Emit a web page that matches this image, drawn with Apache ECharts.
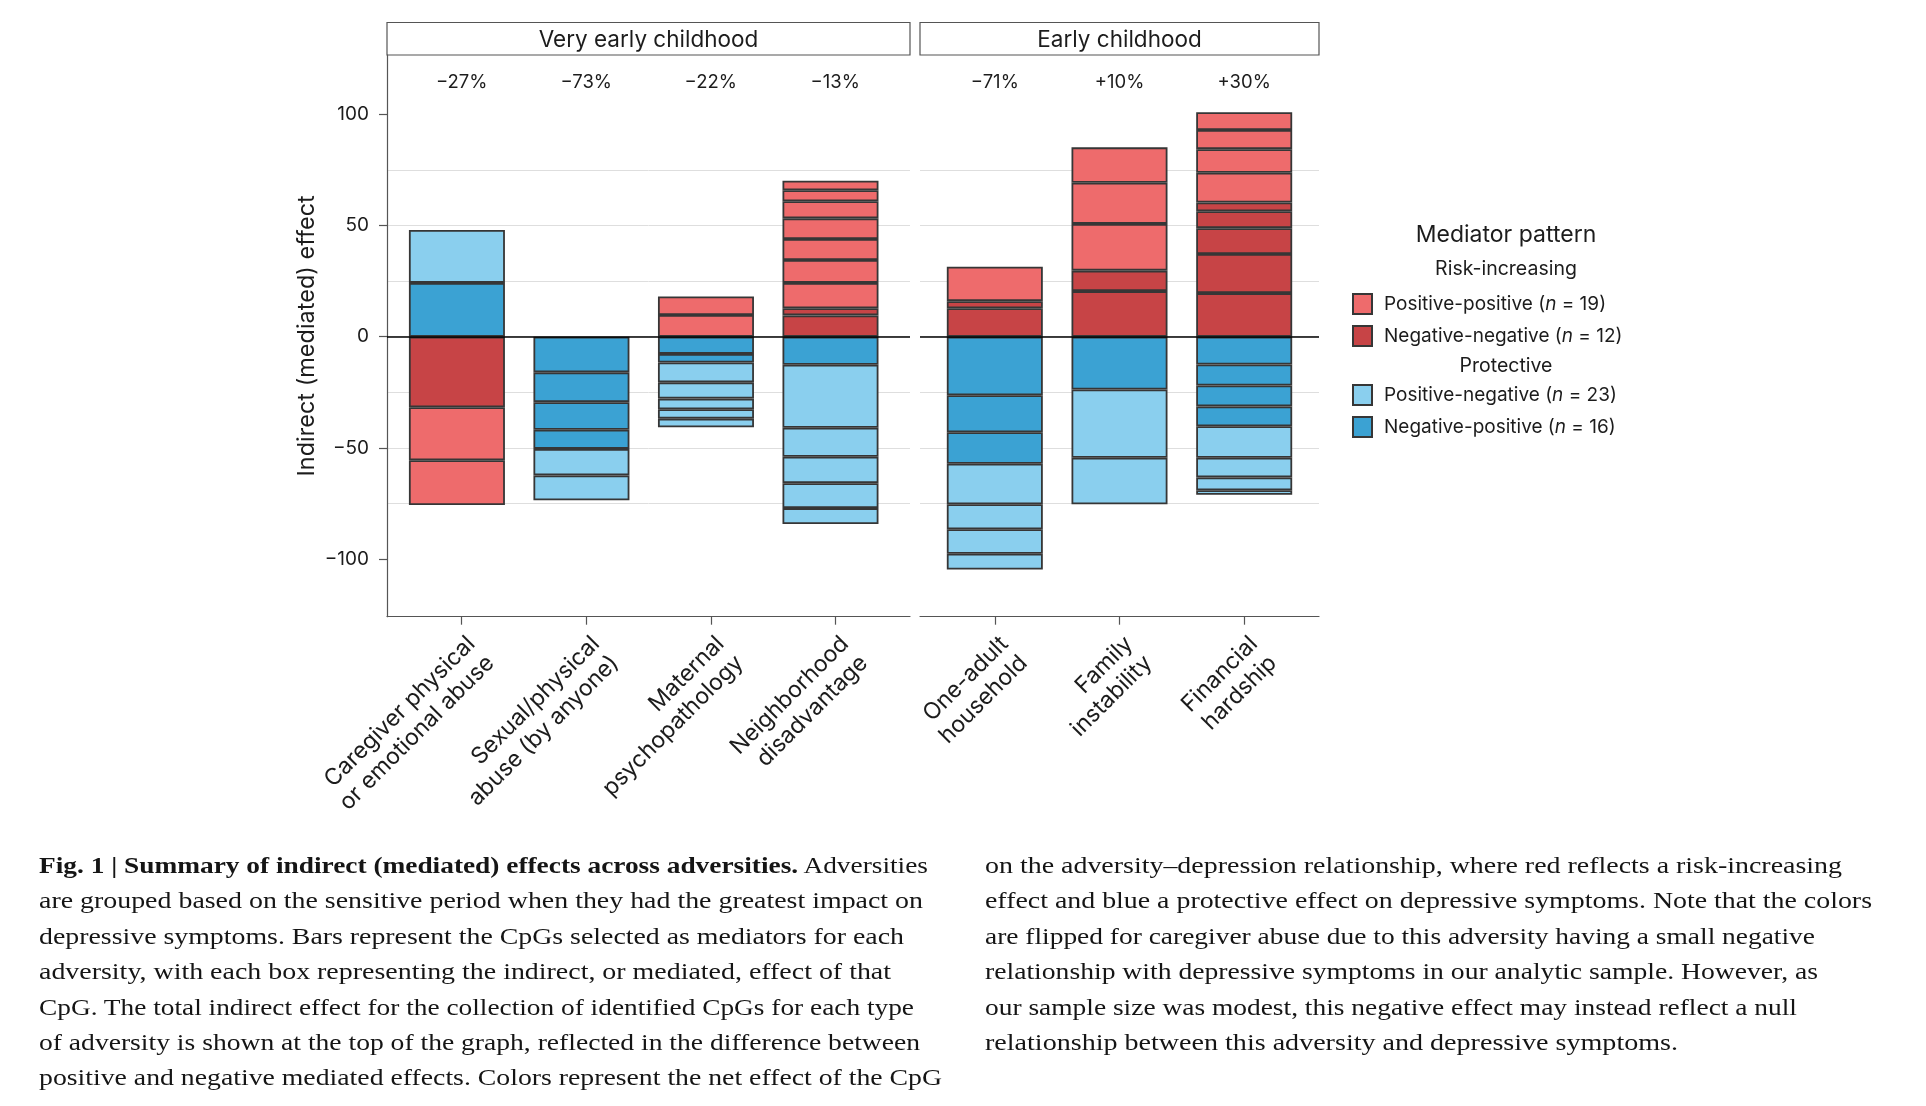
<!DOCTYPE html>
<html><head><meta charset="utf-8">
<script src="https://cdn.jsdelivr.net/npm/echarts@6/dist/echarts.min.js"></script>
<style>
html,body{margin:0;padding:0;background:#fff;}
#chart{position:absolute;left:0;top:0;width:1926px;height:1106px;}
.cap{position:absolute;font-family:'Liberation Serif',serif;font-size:24px;color:#151515;white-space:nowrap;transform-origin:0 50%;line-height:36px;}
.cap b{font-weight:bold;}
</style></head><body>
<div id="chart"></div>
<div id="caption"></div>
<script>
// ---------- data ----------
const panelNames = ['Very early childhood', 'Early childhood'];
const categoriesVeryEarly = ['Caregiver physical\nor emotional abuse', 'Sexual/physical\nabuse (by anyone)', 'Maternal\npsychopathology', 'Neighborhood\ndisadvantage'];
const categoriesEarly = ['One-adult\nhousehold', 'Family\ninstability', 'Financial\nhardship'];
const totalsVeryEarly = ['\u221227%', '\u221273%', '\u221222%', '\u221213%'];
const totalsEarly = ['\u221271%', '+10%', '+30%'];
const yTickValues = [-100, -50, 0, 50, 100];
const yGridValues = [-100, -75, -50, -25, 0, 25, 50, 75, 100];

// mediated effect of each CpG, listed from zero outward: [effect, pattern]
const caregiverAbuse = [[24.2,'NP'],[23.8,'PN'],[-31.7,'NN'],[-23.8,'PP'],[-20.1,'PP']];
const sexualPhysicalAbuse = [[-16.0,'NP'],[-13.4,'NP'],[-12.4,'NP'],[-8.6,'NP'],[-11.9,'PN'],[-11.2,'PN']];
const maternalPsychopathology = [[9.8,'PP'],[8.3,'PP'],[-7.7,'NP'],[-3.9,'NP'],[-8.9,'PN'],[-7.3,'PN'],[-4.8,'PN'],[-4.2,'PN'],[-3.9,'PN']];
const neighborhoodDisadvantage = [[9.6,'NN'],[3.2,'NN'],[11.4,'PP'],[10.3,'PP'],[9.4,'PP'],[9.3,'PP'],[7.7,'PP'],[4.9,'PP'],[4.3,'PP'],
  [-12.6,'NP'],[-28.3,'PN'],[-13.0,'PN'],[-11.9,'PN'],[-11.2,'PN'],[-7.2,'PN']];
const oneAdultHousehold = [[12.8,'NN'],[3.2,'NN'],[15.5,'PP'],[-26.3,'NP'],[-16.6,'NP'],[-14.2,'NP'],[-18.2,'PN'],[-11.2,'PN'],[-11.0,'PN'],[-7.1,'PN']];
const familyInstability = [[20.5,'NN'],[9.2,'NN'],[21.0,'PP'],[18.5,'PP'],[15.9,'PP'],[-23.7,'NP'],[-30.7,'PN'],[-20.9,'PN']];
const financialHardship = [[19.6,'NN'],[17.6,'NN'],[11.6,'NN'],[7.6,'NN'],[3.9,'NN'],[13.4,'PP'],[10.6,'PP'],[8.6,'PP'],[8.0,'PP'],
  [-12.5,'NP'],[-9.4,'NP'],[-9.4,'NP'],[-8.9,'NP'],[-14.2,'PN'],[-8.8,'PN'],[-5.8,'PN'],[-2.0,'PN']];

const patternNames = { PP: 'Positive-positive', NN: 'Negative-negative', PN: 'Positive-negative', NP: 'Negative-positive' };
const patternColors = { PP: '#EE6B6C', NN: '#C74446', PN: '#8ACFEE', NP: '#3BA2D3' };

// ---------- build ----------
const panels = [
  { cats: categoriesVeryEarly, totals: totalsVeryEarly, bars: [caregiverAbuse, sexualPhysicalAbuse, maternalPsychopathology, neighborhoodDisadvantage] },
  { cats: categoriesEarly, totals: totalsEarly, bars: [oneAdultHousehold, familyInstability, financialHardship] }
];
const counts = {};
panels.forEach(p => p.bars.forEach(b => b.forEach(s => { const n = patternNames[s[1]]; counts[n] = (counts[n] || 0) + 1; })));

const FONT = 'Inter, "Noto Sans", sans-serif';
const TXT = '#1c1c1c';
const AX = '#555555';
const L = [387, 920], W = [523, 399], TOP = 55, H = 561.7;

const grid = [
  { left: L[0], top: TOP, width: W[0], height: H },
  { left: L[1], top: TOP, width: W[1], height: H },
  { left: L[0], top: 22.5, width: W[0], height: 32.5, show: true, borderColor: AX, borderWidth: 1.2, backgroundColor: '#fff' },
  { left: L[1], top: 22.5, width: W[1], height: 32.5, show: true, borderColor: AX, borderWidth: 1.2, backgroundColor: '#fff' }
];

const xAxis = [];
panels.forEach((p, pi) => {
  const idx = p.cats.map((c, i) => i + 1);
  xAxis.push({
    gridIndex: pi, type: 'value', min: 0.4, max: p.cats.length + 0.6, position: 'bottom',
    splitLine: { show: false },
    axisLine: { show: true, onZero: false, lineStyle: { color: AX, width: 1.2 } },
    axisTick: { show: true, customValues: idx, length: 8, lineStyle: { color: AX, width: 1.2 } },
    axisLabel: { customValues: idx, formatter: v => p.cats[Math.round(v) - 1], rotate: 45, margin: 14,
      align: 'right', verticalAlign: 'top',
      showMinLabel: true, showMaxLabel: true, hideOverlap: false,
      fontFamily: FONT, fontSize: 23, color: TXT, lineHeight: 27 }
  });
});
panels.forEach((p, pi) => {
  const idx = p.cats.map((c, i) => i + 1);
  xAxis.push({
    gridIndex: pi, type: 'value', min: 0.4, max: p.cats.length + 0.6, position: 'top',
    splitLine: { show: false }, axisLine: { show: false, onZero: false }, axisTick: { show: false },
    axisLabel: { customValues: idx, inside: true, margin: 18, formatter: v => p.totals[Math.round(v) - 1],
      showMinLabel: true, showMaxLabel: true,
      fontFamily: FONT, fontSize: 18.5, color: TXT }
  });
});
panelNames.forEach((name, pi) => {
  xAxis.push({
    gridIndex: 2 + pi, type: 'category', data: [name], position: 'top',
    axisLine: { show: false }, axisTick: { show: false }, splitLine: { show: false },
    axisLabel: { inside: true, margin: 6, fontFamily: FONT, fontSize: 22.5, color: TXT }
  });
});

const yBase = { type: 'value', min: -125.8, max: 126.6, position: 'left' };
const gridLineStyle = { color: '#dedede', width: 1 };
const yAxis = [
  Object.assign({}, yBase, { gridIndex: 0,
    splitLine: { show: true, showMinLine: false, showMaxLine: false, lineStyle: gridLineStyle },
    axisLine: { show: true, onZero: false, lineStyle: { color: AX, width: 1.2 } },
    axisTick: { show: false, customValues: yGridValues }, axisLabel: { show: false } }),
  Object.assign({}, yBase, { gridIndex: 0, splitLine: { show: false }, axisLine: { show: false, onZero: false },
    axisTick: { show: true, customValues: yTickValues, length: 8, lineStyle: { color: AX, width: 1.2 } },
    axisLabel: { customValues: yTickValues, margin: 18, formatter: v => String(v).replace('-', '\u2212'),
      showMinLabel: true, showMaxLabel: true,
      fontFamily: FONT, fontSize: 19, color: TXT },
    name: 'Indirect (mediated) effect', nameLocation: 'middle', nameGap: 68,
    nameTextStyle: { fontFamily: FONT, fontSize: 23.5, color: TXT } }),
  Object.assign({}, yBase, { gridIndex: 1,
    splitLine: { show: true, showMinLine: false, showMaxLine: false, lineStyle: gridLineStyle },
    axisLine: { show: false, onZero: false }, axisTick: { show: false, customValues: yGridValues }, axisLabel: { show: false } }),
  { gridIndex: 2, type: 'value', show: false },
  { gridIndex: 3, type: 'value', show: false }
];

const series = [];
panels.forEach((p, pi) => {
  const yIdx = pi === 0 ? 0 : 2;
  [1, -1].forEach(sign => {
    const segs = p.bars.map(b => b.filter(s => Math.sign(s[0]) === sign));
    const maxK = Math.max(...segs.map(s => s.length));
    for (let k = 0; k < maxK; k++) {
      series.push({
        type: 'bar', xAxisIndex: pi, yAxisIndex: yIdx, stack: 'panel' + pi, barWidth: 96,
        silent: true, animation: false,
        encode: { x: 1, y: 0 },
        itemStyle: { borderColor: '#363636', borderWidth: 1.8 },
        data: segs.map((s, i) => s[k]
          ? { value: [s[k][0], i + 1], itemStyle: { color: patternColors[s[k][1]] } }
          : ['-', i + 1])
      });
    }
  });
  series.push({
    type: 'line', xAxisIndex: pi, yAxisIndex: yIdx, data: [], silent: true, animation: false,
    markLine: { silent: true, symbol: ['none', 'none'], label: { show: false }, z: 10,
      lineStyle: { color: '#000', width: 1.6, type: 'solid' }, data: [{ yAxis: 0 }] }
  });
});
Object.keys(patternNames).forEach(k => {
  series.push({ type: 'bar', name: patternNames[k], xAxisIndex: 0, yAxisIndex: 0, data: [],
    itemStyle: { color: patternColors[k], borderColor: '#363636', borderWidth: 1 } });
});

const legendCommon = {
  orient: 'vertical', left: 1352, itemWidth: 19, itemHeight: 20, itemGap: 10, padding: 0,
  selectedMode: false, icon: 'rect',
  formatter: name => name + ' ({i|n} = ' + counts[name] + ')',
  textStyle: { fontFamily: FONT, fontSize: 19, color: TXT, padding: [0, 0, 0, 7], lineHeight: 20,
    rich: { i: { fontFamily: FONT, fontSize: 19, fontStyle: 'italic', color: TXT, lineHeight: 20 } } }
};

const option = {
  backgroundColor: '#fff',
  animation: false,
  grid, xAxis, yAxis, series,
  legend: [
    Object.assign({}, legendCommon, { top: 293, data: ['Positive-positive', 'Negative-negative'] }),
    Object.assign({}, legendCommon, { top: 384, data: ['Positive-negative', 'Negative-positive'] })
  ],
  graphic: [
    { type: 'text', x: 1506, y: 235, style: { text: 'Mediator pattern', align: 'center', verticalAlign: 'middle', font: '23px ' + FONT, fill: TXT } },
    { type: 'text', x: 1506, y: 269, style: { text: 'Risk-increasing', align: 'center', verticalAlign: 'middle', font: '19.5px ' + FONT, fill: TXT } },
    { type: 'text', x: 1506, y: 366, style: { text: 'Protective', align: 'center', verticalAlign: 'middle', font: '19.5px ' + FONT, fill: TXT } }
  ]
};
const chart = echarts.init(document.getElementById('chart'), null, { renderer: 'canvas' });
chart.setOption(option);

// ---------- caption ----------
const captionLeft = [
  ['<b>Fig. 1 | Summary of indirect (mediated) effects across adversities.</b> Adversities', 889],
  ['are grouped based on the sensitive period when they had the greatest impact on', 884],
  ['depressive symptoms. Bars represent the CpGs selected as mediators for each', 865],
  ['adversity, with each box representing the indirect, or mediated, effect of that', 852],
  ['CpG. The total indirect effect for the collection of identified CpGs for each type', 875],
  ['of adversity is shown at the top of the graph, reflected in the difference between', 881],
  ['positive and negative mediated effects. Colors represent the net effect of the CpG', 903]
];
const captionRight = [
  ['on the adversity\u2013depression relationship, where red reflects a risk-increasing', 857],
  ['effect and blue a protective effect on depressive symptoms. Note that the colors', 887],
  ['are flipped for caregiver abuse due to this adversity having a small negative', 830],
  ['relationship with depressive symptoms in our analytic sample. However, as', 833],
  ['our sample size was modest, this negative effect may instead reflect a null', 812],
  ['relationship between this adversity and depressive symptoms.', 693]
];
const cap = document.getElementById('caption');
function addLines(lines, left) {
  lines.forEach((ln, i) => {
    const d = document.createElement('div');
    d.className = 'cap';
    d.innerHTML = ln[0];
    d.style.left = left + 'px';
    d.style.top = (865 + i * 35.4 - 18) + 'px';
    cap.appendChild(d);
    const w = d.getBoundingClientRect().width;
    d.style.transform = 'scaleX(' + (ln[1] / w) + ')';
  });
}
addLines(captionLeft, 39);
addLines(captionRight, 985);
</script>
</body></html>
